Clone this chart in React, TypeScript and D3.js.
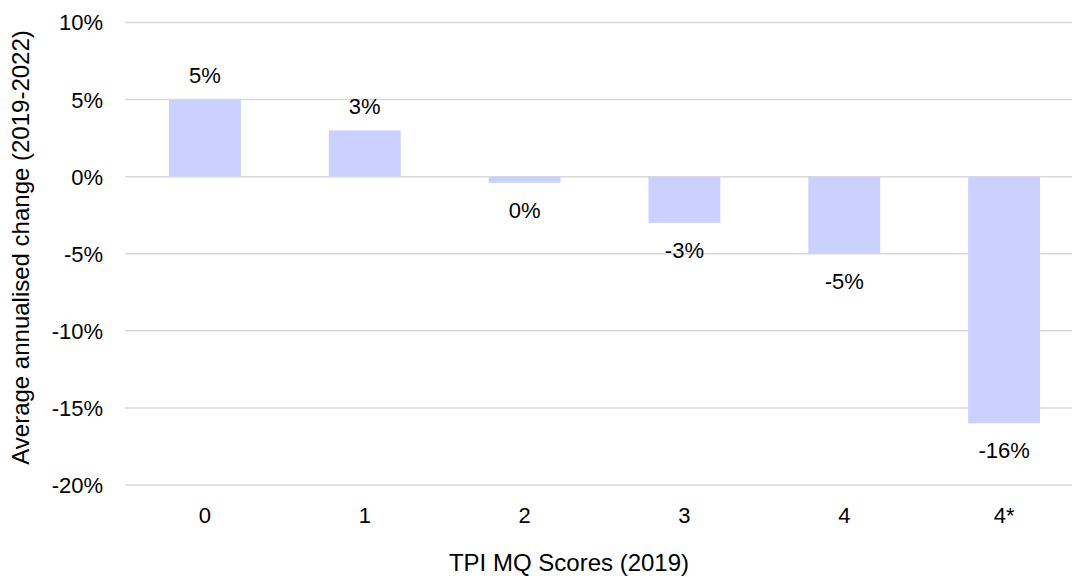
import React from "react";
import * as d3 from "d3";

const categories = ["0", "1", "2", "3", "4", "4*"];
const values = [5.0, 3.0, -0.4, -3.0, -5.0, -16.0];
const valueLabels = ["5%", "3%", "0%", "-3%", "-5%", "-16%"];
const yTicks = [10, 5, 0, -5, -10, -15, -20];

const W = 1072;
const H = 577;
const left = 125;
const right = 1084;
const top = 22.5;
const bottom = 485;
const FONT = "Liberation Sans, Arial, sans-serif";
const FS = 22;
const TFS = 24;

export default function App() {
  const x = d3.scaleBand<string>().domain(categories).range([left, right]).paddingInner(0.55).paddingOuter(0.275);
  const y = d3.scaleLinear().domain([-20, 10]).range([bottom, top]);
  return (
    <svg width={W} height={H} style={{ position: "absolute", left: 0, top: 0 }} fontFamily={FONT}>
      <rect width={W} height={H} fill="#fff" />
      {yTicks.map((t) => (
        <g key={t}>
          <line x1={left} x2={right} y1={y(t)} y2={y(t)} stroke="#d9d9d9" strokeWidth={1.5} />
          <text x={103} y={y(t)} dy="0.36em" textAnchor="end" fontSize={FS} fill="#000">
            {t + "%"}
          </text>
        </g>
      ))}
      {categories.map((c, i) => {
        const v = values[i];
        const y0 = y(0);
        const yv = y(v);
        const cx = (x(c) as number) + x.bandwidth() / 2;
        return (
          <g key={c}>
            <rect x={x(c)} width={x.bandwidth()} y={Math.min(y0, yv)} height={Math.abs(yv - y0)} fill="#cbd1fe" />
            <text
              x={cx}
              y={v >= 0 ? yv - 16.5 : yv + 35}
              textAnchor="middle"
              fontSize={FS}
              fill="#000"
            >
              {valueLabels[i]}
            </text>
            <text x={cx} y={523} textAnchor="middle" fontSize={FS} fill="#000">
              {c}
            </text>
          </g>
        );
      })}
      <text x={569} y={571} textAnchor="middle" fontSize={TFS} fill="#000">
        TPI MQ Scores (2019)
      </text>
      <text
        transform={`translate(29,247.5) rotate(-90)`}
        textAnchor="middle"
        fontSize={TFS}
        fill="#000"
      >
        Average annualised change (2019-2022)
      </text>
    </svg>
  );
}
